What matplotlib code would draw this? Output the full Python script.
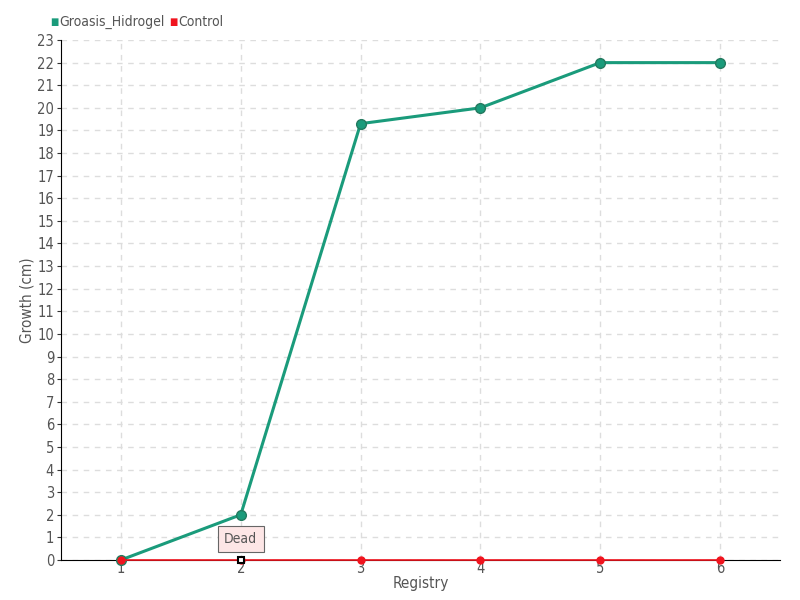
import matplotlib
matplotlib.use("Agg")
import matplotlib.pyplot as plt

registry = [1, 2, 3, 4, 5, 6]
groasis = [0, 2, 19.3, 20, 22, 22]
control = [0, 0, 0, 0, 0, 0]

green = "#1a9b7b"
red = "#f0141e"
txt = "#555555"

plt.rcParams["font.family"] = "DejaVu Sans"
plt.rcParams["font.stretch"] = "condensed"

fig = plt.figure(figsize=(8, 6), dpi=100)
ax = fig.add_axes([0.07625, 0.0667, 0.89875, 0.8666])

ax.plot(registry, groasis, color=green, lw=2.2, marker="o", ms=7,
        markerfacecolor=green, markeredgecolor="#237a5f", zorder=4,
        clip_on=False)
ax.plot(registry, control, color=red, lw=1.2, marker="o", ms=5,
        markerfacecolor=red, markeredgecolor=red, zorder=5, clip_on=False)
# the dead point
ax.plot(registry[1], control[1], marker="s", ms=5, markerfacecolor="white",
        markeredgecolor="black", markeredgewidth=1.5, zorder=6, clip_on=False)
ax.annotate("Dead", xy=(registry[1], control[1]), xytext=(0, 15),
            textcoords="offset points", ha="center", va="center",
            fontsize=10, color=txt,
            bbox=dict(boxstyle="square,pad=0.45", fc="#fde6e6", ec="#666666", lw=0.8),
            zorder=7)

ax.set_xlim(0.5, 6.5)
ax.set_ylim(0, 23)
ax.set_xticks(registry)
ax.set_yticks(range(0, 24))
ax.grid(True, color="#dddddd", ls=(0, (4, 4)), lw=1)
ax.set_axisbelow(True)
for s in ["top", "right"]:
    ax.spines[s].set_visible(False)
ax.spines["left"].set_color("black")
ax.spines["bottom"].set_color("black")
ax.spines["bottom"].set_zorder(3)
ax.tick_params(axis="both", colors="#333333", labelcolor=txt, labelsize=10.5,
               length=3)
ax.tick_params(axis="x", length=0, pad=1)
ax.tick_params(axis="y", pad=2)
ax.set_xlabel("Registry", color=txt, fontsize=11, labelpad=0)
ax.set_ylabel("Growth (cm)", color=txt, fontsize=11, labelpad=2)

fig.text(50 / 800, 0.963, "\u25a0", color=green, fontsize=7, va="center")
fig.text(59 / 800, 0.963, "Groasis_Hidrogel", color=txt, fontsize=10, va="center")
fig.text(169 / 800, 0.963, "\u25a0", color=red, fontsize=7, va="center")
fig.text(178 / 800, 0.963, "Control", color=txt, fontsize=10, va="center")

fig.savefig("out.png", dpi=100)
